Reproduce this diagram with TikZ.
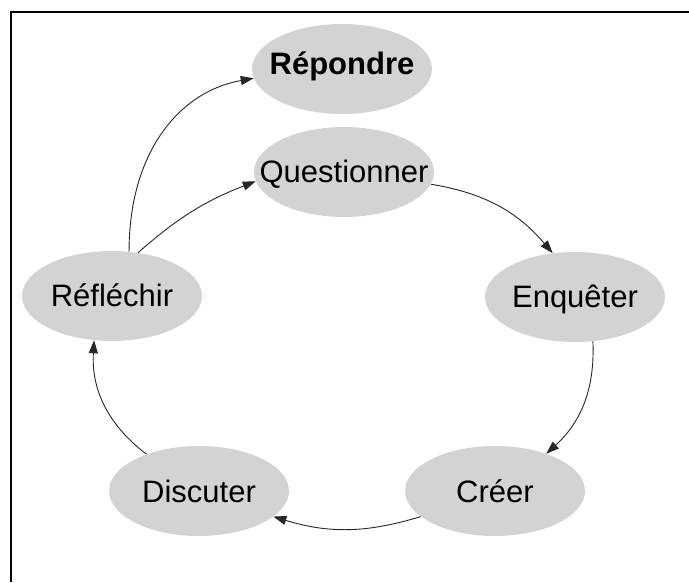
\documentclass[tikz,border=0pt]{standalone}
\usepackage{fontspec}
\setmainfont{Liberation Sans}
\usetikzlibrary{shapes.geometric,arrows.meta}
\definecolor{ellgray}{RGB}{211,211,211}
\tikzset{
  stage/.style={ellipse, fill=ellgray, draw=none, minimum width=180pt, minimum height=90pt,
    inner sep=0pt, text height=22pt, text depth=0pt,
    font=\fontsize{31}{36}\selectfont},
  flow/.style={line width=0.9pt, black!85, -{Triangle[length=13pt,width=9pt]}},
  framel/.style={line width=2pt, black}
}
\begin{document}
\begin{tikzpicture}[x=1pt,y=1pt]
\useasboundingbox (0,0) rectangle (689,582);
% frame (top and left only)
\coordinate (ftr) at (689,570);
\coordinate (ftl) at (11,570);
\coordinate (fbl) at (11,0);
\draw[framel] (ftr) -- (ftl) -- (fbl);
% nodes
\node[stage] (rep) at (342,513) {\makebox[0pt]{\raisebox{5pt}{\textbf{Répondre}}}};
\node[stage] (q)   at (344,410) {\makebox[0pt]{Questionner}};
\node[stage] (enq) at (575,285) {\makebox[0pt]{Enquêter}};
\node[stage] (cr)  at (495,91)  {\makebox[0pt]{Créer}};
\node[stage] (dis) at (199,91)  {\makebox[0pt]{Discuter}};
\node[stage] (ref) at (112,286) {\makebox[0pt]{Réfléchir}};
% connectors
\draw[flow] (ref.69) .. controls +(90:100) and +(190:75) .. (rep.186);
\draw[flow] (ref.59) to[bend left=10] (q.186);
\draw[flow] (q.-8) to[bend left=20] (enq.117);
\draw[flow] (enq.292) to[bend left=25] (cr.36);
\draw[flow] (cr.199) to[bend left=17] (dis.341);
\draw[flow] (dis.145) to[bend left=28] (ref.248);
\end{tikzpicture}
\end{document}
